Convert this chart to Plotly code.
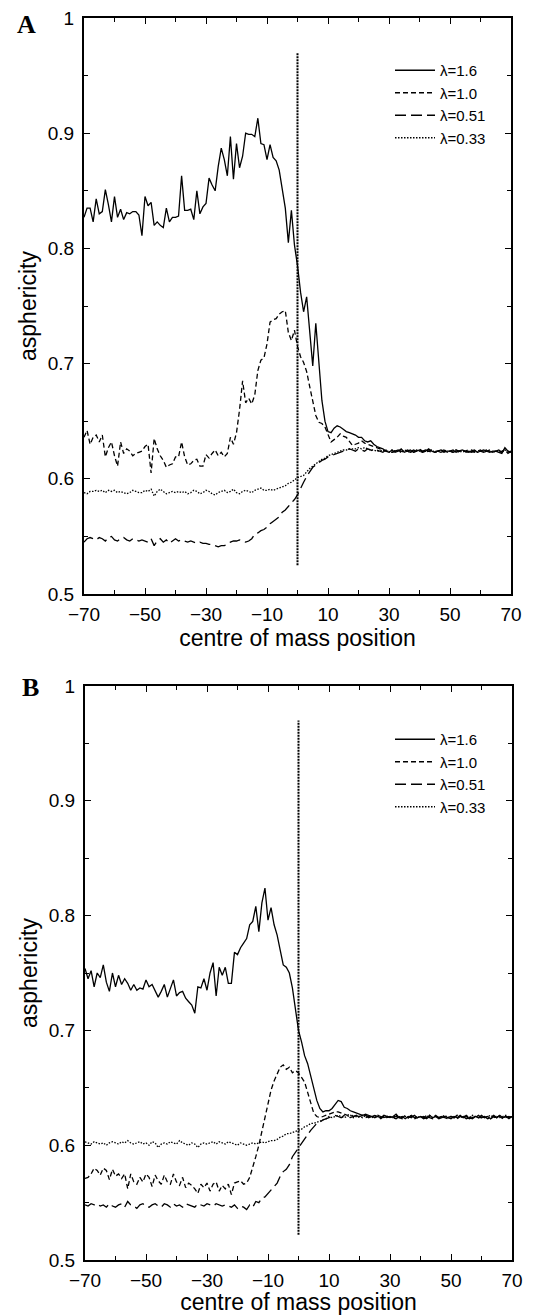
import plotly.graph_objects as go

# ---------------- data ----------------
x_pos = list(range(-70, 71))

# Panel A
A_lam16 = [
    0.827,0.835,0.835,0.823,0.843,0.830,0.832,0.851,0.838,0.823,
    0.845,0.827,0.834,0.825,0.831,0.830,0.832,0.832,0.829,0.811,
    0.845,0.837,0.840,0.820,0.823,0.820,0.818,0.835,0.823,0.827,
    0.827,0.828,0.863,0.833,0.833,0.834,0.825,0.850,0.830,0.836,
    0.839,0.861,0.855,0.850,0.871,0.887,0.877,0.863,0.897,0.860,
    0.891,0.870,0.880,0.900,0.899,0.899,0.897,0.913,0.891,0.890,
    0.877,0.890,0.879,0.876,0.868,0.850,0.835,0.805,0.833,0.803,
    0.785,0.762,0.745,0.758,0.728,0.698,0.735,0.700,0.668,0.650,
    0.641,0.640,0.644,0.646,0.645,0.643,0.641,0.640,0.639,0.638,
    0.636,0.636,0.633,0.632,0.633,0.630,0.628,0.627,0.626,0.624,
    0.623,0.625,0.623,0.624,0.626,0.623,0.624,0.625,0.623,0.624,
    0.625,0.623,0.624,0.626,0.624,0.623,0.624,0.625,0.623,0.624,
    0.624,0.625,0.623,0.624,0.625,0.624,0.623,0.624,0.625,0.623,
    0.624,0.625,0.624,0.623,0.624,0.624,0.623,0.622,0.627,0.624,
    0.623]
A_lam10 = [
    0.636,0.642,0.630,0.636,0.638,0.632,0.638,0.619,0.627,0.632,
    0.620,0.611,0.632,0.622,0.626,0.624,0.620,0.622,0.623,0.624,
    0.628,0.630,0.605,0.635,0.626,0.620,0.616,0.610,0.612,0.613,
    0.619,0.619,0.632,0.619,0.612,0.613,0.616,0.617,0.611,0.611,
    0.621,0.618,0.622,0.625,0.620,0.623,0.619,0.622,0.636,0.630,
    0.640,0.660,0.685,0.666,0.670,0.665,0.673,0.694,0.703,0.705,
    0.717,0.736,0.738,0.739,0.743,0.745,0.746,0.727,0.720,0.729,
    0.715,0.706,0.701,0.693,0.680,0.668,0.655,0.649,0.648,0.645,
    0.638,0.632,0.634,0.636,0.639,0.637,0.636,0.632,0.629,0.630,
    0.631,0.633,0.631,0.630,0.629,0.628,0.627,0.626,0.625,0.624,
    0.624,0.623,0.624,0.625,0.624,0.623,0.625,0.624,0.623,0.624,
    0.626,0.624,0.623,0.624,0.625,0.623,0.624,0.624,0.625,0.623,
    0.624,0.623,0.625,0.624,0.623,0.624,0.625,0.624,0.623,0.624,
    0.625,0.623,0.624,0.625,0.623,0.624,0.623,0.624,0.625,0.622,
    0.624]
A_lam051 = [
    0.545,0.548,0.549,0.548,0.547,0.549,0.548,0.546,0.549,0.550,
    0.547,0.546,0.548,0.549,0.547,0.546,0.548,0.547,0.546,0.547,
    0.546,0.545,0.548,0.542,0.546,0.548,0.545,0.547,0.544,0.546,
    0.548,0.546,0.547,0.546,0.545,0.546,0.545,0.544,0.545,0.544,
    0.544,0.543,0.543,0.542,0.541,0.542,0.542,0.543,0.545,0.546,
    0.546,0.547,0.546,0.545,0.546,0.548,0.552,0.553,0.555,0.556,
    0.558,0.561,0.563,0.565,0.567,0.571,0.573,0.576,0.579,0.582,
    0.586,0.592,0.597,0.602,0.606,0.610,0.612,0.614,0.616,0.617,
    0.619,0.620,0.621,0.622,0.623,0.624,0.625,0.626,0.625,0.624,
    0.626,0.625,0.624,0.626,0.625,0.624,0.625,0.624,0.623,0.625,
    0.624,0.623,0.624,0.625,0.623,0.624,0.624,0.623,0.625,0.624,
    0.623,0.624,0.625,0.624,0.623,0.624,0.624,0.623,0.624,0.625,
    0.624,0.623,0.624,0.624,0.625,0.623,0.624,0.623,0.624,0.625,
    0.624,0.623,0.624,0.624,0.623,0.624,0.625,0.623,0.626,0.623,
    0.624]
A_lam033 = [
    0.588,0.587,0.589,0.589,0.590,0.589,0.590,0.588,0.590,0.589,
    0.590,0.588,0.589,0.588,0.587,0.588,0.590,0.589,0.588,0.588,
    0.590,0.589,0.591,0.585,0.589,0.591,0.589,0.587,0.588,0.589,
    0.588,0.589,0.588,0.589,0.587,0.588,0.590,0.589,0.587,0.588,
    0.590,0.589,0.587,0.586,0.588,0.589,0.590,0.588,0.589,0.591,
    0.588,0.587,0.589,0.590,0.589,0.588,0.590,0.591,0.592,0.590,
    0.590,0.591,0.590,0.591,0.592,0.593,0.594,0.596,0.597,0.599,
    0.601,0.602,0.603,0.606,0.609,0.611,0.613,0.615,0.617,0.618,
    0.620,0.621,0.622,0.623,0.624,0.625,0.625,0.626,0.626,0.626,
    0.627,0.626,0.627,0.626,0.625,0.625,0.624,0.624,0.625,0.624,
    0.623,0.625,0.624,0.624,0.623,0.625,0.624,0.623,0.624,0.625,
    0.624,0.623,0.624,0.624,0.625,0.623,0.624,0.625,0.624,0.623,
    0.624,0.624,0.625,0.623,0.624,0.624,0.623,0.625,0.624,0.623,
    0.624,0.624,0.625,0.624,0.623,0.624,0.624,0.623,0.625,0.624,
    0.623]

# Panel B
B_lam16 = [
    0.754,0.745,0.752,0.738,0.750,0.746,0.757,0.742,0.734,0.750,
    0.738,0.748,0.740,0.745,0.741,0.735,0.740,0.735,0.737,0.736,
    0.744,0.738,0.740,0.735,0.729,0.734,0.740,0.729,0.737,0.744,
    0.730,0.733,0.734,0.728,0.725,0.722,0.715,0.738,0.737,0.745,
    0.735,0.750,0.759,0.730,0.755,0.748,0.755,0.741,0.741,0.768,
    0.766,0.772,0.776,0.780,0.792,0.795,0.808,0.786,0.811,0.824,
    0.796,0.807,0.792,0.783,0.770,0.757,0.755,0.750,0.737,0.720,
    0.700,0.690,0.678,0.671,0.661,0.649,0.639,0.632,0.629,0.630,
    0.630,0.632,0.636,0.639,0.638,0.633,0.632,0.630,0.629,0.628,
    0.627,0.626,0.627,0.626,0.625,0.626,0.625,0.624,0.626,0.625,
    0.624,0.625,0.627,0.624,0.625,0.623,0.625,0.624,0.626,0.624,
    0.625,0.623,0.624,0.626,0.624,0.625,0.623,0.624,0.625,0.624,
    0.623,0.625,0.624,0.626,0.624,0.625,0.623,0.624,0.625,0.624,
    0.626,0.624,0.625,0.623,0.625,0.624,0.626,0.624,0.625,0.624,
    0.625]
B_lam10 = [
    0.571,0.572,0.575,0.580,0.578,0.574,0.580,0.578,0.570,0.579,
    0.573,0.575,0.571,0.575,0.562,0.575,0.568,0.566,0.572,0.568,
    0.575,0.572,0.564,0.574,0.569,0.566,0.574,0.568,0.566,0.575,
    0.568,0.565,0.572,0.563,0.567,0.565,0.562,0.558,0.566,0.563,
    0.567,0.560,0.566,0.568,0.560,0.565,0.562,0.566,0.557,0.567,
    0.568,0.569,0.566,0.567,0.572,0.580,0.590,0.600,0.612,0.625,
    0.637,0.648,0.656,0.662,0.668,0.670,0.666,0.668,0.663,0.665,
    0.663,0.659,0.655,0.646,0.636,0.628,0.625,0.624,0.625,0.626,
    0.627,0.628,0.629,0.629,0.628,0.627,0.626,0.627,0.625,0.626,
    0.625,0.626,0.624,0.625,0.626,0.624,0.625,0.623,0.625,0.624,
    0.625,0.624,0.623,0.625,0.624,0.626,0.624,0.625,0.623,0.624,
    0.625,0.624,0.626,0.624,0.623,0.625,0.624,0.625,0.624,0.623,
    0.625,0.624,0.623,0.625,0.624,0.626,0.624,0.623,0.625,0.624,
    0.624,0.625,0.623,0.624,0.626,0.624,0.625,0.623,0.624,0.625,
    0.624]
B_lam051 = [
    0.548,0.547,0.549,0.548,0.549,0.547,0.548,0.546,0.549,0.547,
    0.546,0.548,0.549,0.546,0.551,0.548,0.547,0.545,0.548,0.549,
    0.547,0.546,0.548,0.549,0.547,0.546,0.549,0.548,0.546,0.549,
    0.547,0.548,0.546,0.549,0.548,0.547,0.546,0.549,0.548,0.547,
    0.549,0.548,0.547,0.549,0.548,0.547,0.548,0.547,0.546,0.548,
    0.545,0.547,0.546,0.544,0.548,0.546,0.551,0.550,0.554,0.555,
    0.558,0.561,0.564,0.567,0.573,0.577,0.579,0.583,0.590,0.594,
    0.598,0.602,0.606,0.610,0.613,0.616,0.619,0.620,0.622,0.623,
    0.624,0.625,0.626,0.625,0.624,0.626,0.625,0.624,0.625,0.626,
    0.624,0.625,0.626,0.624,0.625,0.624,0.626,0.625,0.624,0.625,
    0.626,0.624,0.625,0.624,0.623,0.625,0.624,0.626,0.624,0.625,
    0.624,0.625,0.623,0.625,0.624,0.626,0.624,0.625,0.623,0.624,
    0.625,0.624,0.626,0.624,0.625,0.623,0.624,0.625,0.624,0.626,
    0.624,0.625,0.624,0.623,0.625,0.624,0.626,0.624,0.625,0.623,
    0.625]
B_lam033 = [
    0.603,0.602,0.601,0.603,0.602,0.601,0.602,0.600,0.602,0.603,
    0.602,0.601,0.603,0.602,0.604,0.602,0.601,0.602,0.603,0.601,
    0.602,0.600,0.603,0.602,0.598,0.601,0.602,0.601,0.603,0.602,
    0.601,0.604,0.602,0.601,0.600,0.602,0.601,0.598,0.601,0.602,
    0.601,0.602,0.603,0.601,0.603,0.602,0.601,0.603,0.602,0.601,
    0.600,0.602,0.601,0.600,0.601,0.602,0.601,0.602,0.603,0.602,
    0.603,0.604,0.604,0.605,0.607,0.608,0.610,0.610,0.611,0.612,
    0.613,0.614,0.616,0.617,0.619,0.619,0.620,0.621,0.622,0.623,
    0.625,0.624,0.625,0.626,0.625,0.624,0.625,0.626,0.624,0.625,
    0.625,0.624,0.626,0.625,0.624,0.625,0.626,0.624,0.625,0.624,
    0.625,0.624,0.626,0.625,0.624,0.625,0.624,0.626,0.625,0.624,
    0.625,0.624,0.625,0.626,0.624,0.625,0.624,0.625,0.626,0.624,
    0.625,0.624,0.626,0.624,0.625,0.625,0.624,0.626,0.625,0.624,
    0.625,0.624,0.625,0.626,0.624,0.625,0.624,0.625,0.626,0.624,
    0.625]

# vertical marker at the centre (x = 0)
marker_x = [0, 0]
A_marker_y = [0.525, 0.97]
B_marker_y = [0.522, 0.97]

series_names = ["\u03bb=1.6", "\u03bb=1.0", "\u03bb=0.51", "\u03bb=0.33"]
x_tick_vals = [-70, -50, -30, -10, 10, 30, 50, 70]
y_tick_vals = [0.5, 0.6, 0.7, 0.8, 0.9, 1.0]

# ---------------- figure ----------------
W, H = 533, 1315
FONT = "Liberation Sans, Arial, sans-serif"
dashes = ["solid", "5px,3px", "11px,5px", "1.5px,1.5px"]

fig = go.Figure()

def add_panel(ys, xa, ya, legend_name, marker_y):
    for name, y, d in zip(series_names, ys, dashes):
        fig.add_trace(go.Scatter(
            x=x_pos, y=y, mode="lines", name=name,
            line=dict(color="black", width=1.3, dash=d),
            xaxis=xa, yaxis=ya, legend=legend_name, hoverinfo="skip"))
    fig.add_trace(go.Scatter(
        x=marker_x, y=marker_y, mode="lines", showlegend=False,
        line=dict(color="black", width=2, dash="2px,1px"),
        xaxis=xa, yaxis=ya, hoverinfo="skip"))

add_panel([A_lam16, A_lam10, A_lam051, A_lam033], "x", "y", "legend", A_marker_y)
add_panel([B_lam16, B_lam10, B_lam051, B_lam033], "x2", "y2", "legend2", B_marker_y)

def xaxis(domain, anchor):
    return dict(
        domain=domain, anchor=anchor, range=[-70, 70],
        tickmode="array", tickvals=x_tick_vals,
        ticktext=[("\u2212" + str(-v)) if v < 0 else str(v) for v in x_tick_vals],
        ticks="inside", ticklen=6, tickwidth=1, tickcolor="black",
        minor=dict(tickmode="linear", tick0=-70, dtick=10, ticks="inside",
                   ticklen=4, tickcolor="black"),
        showline=True, linewidth=2, linecolor="black", mirror="ticks",
        showgrid=False, zeroline=False,
        tickfont=dict(family=FONT, size=19, color="black"),
        ticklabelstandoff=2,
        title=dict(text="centre of mass position",
                   font=dict(family=FONT, size=23, color="black"), standoff=0),
        automargin=False,
    )

def yaxis(domain, anchor):
    return dict(
        domain=domain, anchor=anchor, range=[0.5, 1.0],
        tickmode="array", tickvals=y_tick_vals,
        ticktext=["0.5", "0.6", "0.7", "0.8", "0.9", "1"],
        ticks="inside", ticklen=6, tickwidth=1, tickcolor="black",
        minor=dict(tickmode="linear", tick0=0.5, dtick=0.05, ticks="inside",
                   ticklen=4, tickcolor="black"),
        showline=True, linewidth=2, linecolor="black", mirror="ticks",
        showgrid=False, zeroline=False,
        tickfont=dict(family=FONT, size=19, color="black"),
        ticklabelstandoff=4,
        title=dict(text="asphericity",
                   font=dict(family=FONT, size=23, color="black"), standoff=5),
        automargin=False,
    )

legend_common = dict(
    xanchor="left", yanchor="top", bgcolor="rgba(0,0,0,0)",
    font=dict(family=FONT, size=15, color="black"),
    itemwidth=40, tracegroupgap=0, traceorder="normal",
)

fig.update_layout(
    width=W, height=H,
    margin=dict(l=0, r=0, t=0, b=0),
    paper_bgcolor="white", plot_bgcolor="white",
    showlegend=True,
    xaxis=xaxis([84 / W, 511 / W], "y"),
    yaxis=yaxis([1 - 594 / H, 1 - 18 / H], "x"),
    xaxis2=xaxis([85 / W, 512 / W], "y2"),
    yaxis2=yaxis([1 - 1260 / H, 1 - 686 / H], "x2"),
    legend=dict(x=390 / W, y=1 - 54 / H, **legend_common),
    legend2=dict(x=390 / W, y=1 - 723 / H, **legend_common),
    annotations=[
        dict(text="<b>A</b>", x=15 / W, y=1 - 8 / H, xref="paper", yref="paper",
             xanchor="left", yanchor="top", showarrow=False,
             font=dict(family="Liberation Serif, Times New Roman, serif", size=26, color="black")),
        dict(text="<b>B</b>", x=20 / W, y=1 - 671 / H, xref="paper", yref="paper",
             xanchor="left", yanchor="top", showarrow=False,
             font=dict(family="Liberation Serif, Times New Roman, serif", size=26, color="black")),
    ],
)

fig.write_html("out.html", config={"displayModeBar": False},
               post_script="document.body.style.margin='0px';document.body.style.padding='0px';")
